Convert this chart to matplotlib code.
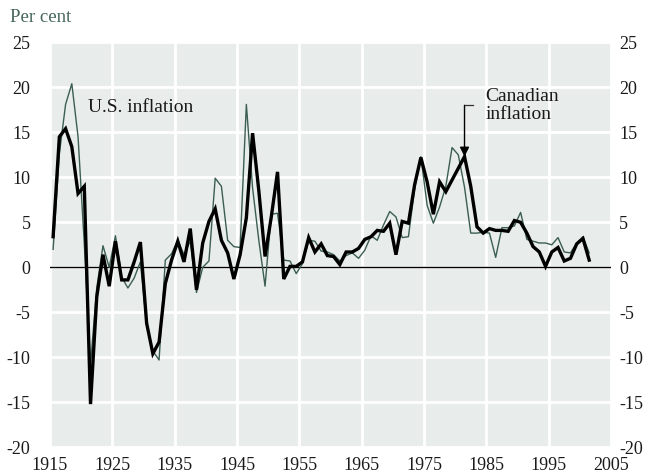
import numpy as np
import matplotlib
matplotlib.use("Agg")
import matplotlib.pyplot as plt

years = list(range(1915, 2002))

canada = [3.4, 14.5, 15.4, 13.4, 8.2, 9.0, -15.2, -3.3, 1.4, -2.1,
          2.9, -1.4, -1.4, 0.6, 2.8, -6.2, -9.6, -8.3, -1.8, 0.8,
          2.9, 0.6, 4.3, -2.5, 2.7, 5.1, 6.5, 3.0, 1.6, -1.3,
          1.4, 5.5, 14.9, 8.5, 1.2, 5.6, 10.6, -1.3, 0.1, 0.1,
          0.6, 3.3, 1.7, 2.6, 1.3, 1.2, 0.3, 1.7, 1.7, 2.1,
          3.1, 3.4, 4.1, 4.0, 4.9, 1.4, 5.1, 4.9, 9.2, 12.2,
          9.5, 5.9, 9.5, 8.4, 9.7, 11.0, 12.3, 9.0, 4.5, 3.8,
          4.3, 4.1, 4.1, 4.0, 5.2, 5.0, 3.8, 2.3, 1.7, 0.1,
          1.7, 2.2, 0.7, 1.0, 2.6, 3.2, 0.8]

us = [2.0, 12.6, 18.1, 20.4, 14.5, 2.6, -10.8, -2.3, 2.4, 0.0,
      3.5, -1.1, -2.3, -1.2, 0.6, -6.4, -9.3, -10.3, 0.8, 1.5,
      3.0, 1.4, 2.9, -2.8, 0.0, 0.7, 9.9, 9.0, 3.0, 2.3,
      2.2, 18.1, 8.8, 3.0, -2.1, 5.9, 6.0, 0.8, 0.7, -0.7,
      0.4, 3.0, 2.9, 1.8, 1.7, 1.4, 0.7, 1.3, 1.6, 1.0,
      1.9, 3.5, 3.0, 4.7, 6.2, 5.6, 3.3, 3.4, 8.7, 12.3,
      6.9, 4.9, 6.7, 9.0, 13.3, 12.5, 8.9, 3.8, 3.8, 3.9,
      3.8, 1.1, 4.4, 4.4, 4.6, 6.1, 3.1, 2.9, 2.7, 2.7,
      2.5, 3.3, 1.7, 1.6, 2.7, 3.4, 1.6]

x_ticks = [1915, 1925, 1935, 1945, 1955, 1965, 1975, 1985, 1995, 2005]
y_ticks = [-20, -15, -10, -5, 0, 5, 10, 15, 20, 25]

plt.rcParams['font.family'] = ['Liberation Serif', 'DejaVu Serif']
plt.rcParams['axes.unicode_minus'] = False

fig = plt.figure(figsize=(6.48, 4.76), dpi=100)
ax = fig.add_axes([50/648, 1-447.3/476, (611-50)/648, (447.3-42.3)/476])
ax.set_facecolor('#e8eceb')
for s in ax.spines.values():
    s.set_visible(False)

ax.set_xlim(1915, 2005)
ax.set_ylim(-20, 25)
ax.set_xticks(x_ticks)
ax.set_yticks(y_ticks)
ax.grid(True, color='white', lw=2.0, zorder=0)
ax.set_axisbelow(True)
ax.tick_params(axis='both', length=0, labelsize=13, colors='#1a1a1a')
ax.tick_params(axis='x', pad=7)
ax.tick_params(axis='y', pad=14)

ax.axhline(0, color='black', lw=1.0, zorder=2)

xs = np.array(years) + 0.5
ax.plot(xs, us, color='#3b5e52', lw=1.0, zorder=3)
ax.plot(xs, canada, color='black', lw=2.4, zorder=4, solid_joinstyle='miter')

# right-hand labels
ax2 = ax.twinx()
ax2.set_ylim(ax.get_ylim())
ax2.set_yticks(y_ticks)
for s in ax2.spines.values():
    s.set_visible(False)
ax2.tick_params(axis='y', length=0, labelsize=13, colors='#1a1a1a', pad=6)

fig.text(10/648, 1-17/476, 'Per cent', fontsize=13.5, color='#46665a',
         ha='left', va='center')

ax.text(1921.1, 17.7, 'U.S. inflation', fontsize=14, ha='left', va='center',
        color='#1a1a1a', zorder=6)

i81 = years.index(1981)
tip_x = xs[i81]
tip_y = canada[i81]
ax.annotate('', xy=(tip_x, tip_y), xytext=(tip_x, 18.0),
            arrowprops=dict(arrowstyle='-|>', color='black', lw=1.0,
                            mutation_scale=14, shrinkA=0, shrinkB=0),
            zorder=6)
ax.plot([tip_x, tip_x + 1.4], [18.0, 18.0], color='#333333', lw=0.9, zorder=6)
ax.text(1984.9, 18.0, 'Canadian\ninflation', fontsize=14, ha='left',
        va='center', linespacing=1.1, color='#1a1a1a', zorder=6)

fig.savefig('out.png', dpi=100)
